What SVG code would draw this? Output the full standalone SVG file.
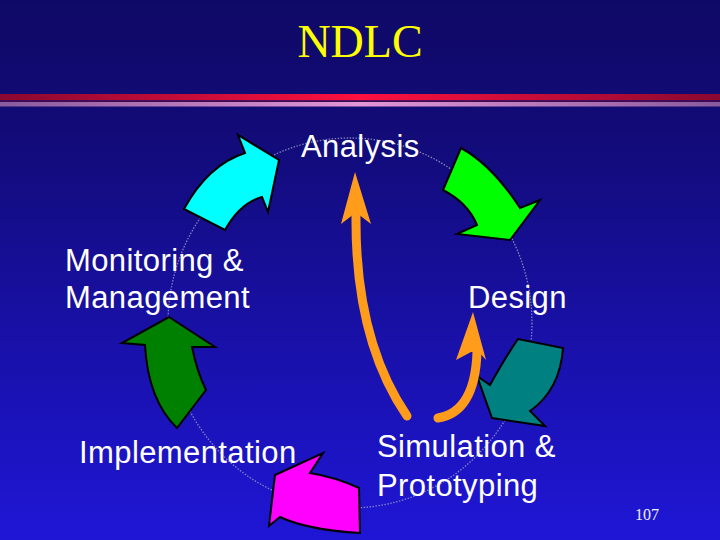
<svg xmlns="http://www.w3.org/2000/svg" width="720" height="540" viewBox="0 0 720 540">
  <defs>
    <linearGradient id="bg" x1="0" y1="0" x2="0" y2="1">
      <stop offset="0" stop-color="#0f0966"/>
      <stop offset="0.25" stop-color="#120b78"/>
      <stop offset="1" stop-color="#1f16d6"/>
    </linearGradient>
    <linearGradient id="red" x1="0" y1="0" x2="1" y2="0">
      <stop offset="0" stop-color="#8a0830"/>
      <stop offset="0.5" stop-color="#ff1040"/>
      <stop offset="1" stop-color="#8a0830"/>
    </linearGradient>
    <linearGradient id="pink" x1="0" y1="0" x2="1" y2="0">
      <stop offset="0" stop-color="#8a5a9e"/>
      <stop offset="0.5" stop-color="#e496d6"/>
      <stop offset="1" stop-color="#8a5a9e"/>
    </linearGradient>
    <style>
      .lbl { font-family: "Liberation Sans", Arial, sans-serif; font-size: 31px; letter-spacing: 0.4px; fill: #ffffff; }
      .blk { stroke: #000000; stroke-width: 2; stroke-linejoin: miter; }
      .shaft { fill: none; stroke: #ff9c1c; stroke-width: 9; stroke-linecap: round; }
      .head { fill: #ff9c1c; }
    </style>
  </defs>

  <rect x="0" y="0" width="720" height="540" fill="url(#bg)"/>
  <rect x="0" y="94" width="720" height="6.5" fill="url(#red)"/>
  <rect x="0" y="100.5" width="720" height="1.5" fill="#3a0a55"/>
  <rect x="0" y="102" width="720" height="4.5" fill="url(#pink)"/>

  <text x="360" y="57" text-anchor="middle" font-family="'Liberation Serif', 'Times New Roman', serif" font-size="46" fill="#ffff00">NDLC</text>

  <g id="cycle">
    <ellipse cx="350" cy="323" rx="182" ry="185" fill="none" stroke="#9494c4" stroke-width="1.3" stroke-dasharray="1.5 1.5" opacity="0.85"/>
  </g>

  <g id="connectors">
    <path id="arrow-cyan" class="blk" fill="#00ffff" d="M184,209 Q208,165 245,153 L238,135 L279,160 L268,212 L262,197 Q240,203 225,230 Z"/>
    <path id="arrow-green" class="blk" fill="#00ff00" d="M461,148 Q492,165 520,208 L540,200 L510,240 L457,234 L477,225 Q468,203 443,190 Z"/>
    <path id="arrow-teal" class="blk" fill="#008080" d="M563,348 Q560,390 530,411 L545,426 L492,418 L477,376 L490,385 Q505,358 518,339 Z"/>
    <path id="arrow-magenta" class="blk" fill="#ff00ff" d="M359,488 Q335,477 310,473 L323,453 L275,475 L269,526 L280,517 Q308,530 360,533 Z"/>
    <path id="arrow-darkgreen" class="blk" fill="#008000" d="M169,317 L215,347 L192,347 Q197,372 206,390 L177,428 Q148,400 145,345 L122,343 Z"/>

    <g id="orange-long">
      <path class="shaft" d="M356,216 Q355,340 407,416"/>
      <polygon class="head" points="355,172 371,224 358,214 354,214 341,224"/>
    </g>
    <g id="orange-short">
      <path class="shaft" d="M477,352 Q475,412 438,418"/>
      <polygon class="head" points="473,312 486,360 479,352 471,352 456,360"/>
    </g>
  </g>

  <g id="node-analysis">
    <text class="lbl" x="301" y="157">Analysis</text>
  </g>
  <g id="node-design">
    <text class="lbl" x="468" y="308">Design</text>
  </g>
  <g id="node-simulation">
    <text class="lbl" x="377" y="457">Simulation &amp;</text>
    <text class="lbl" x="377" y="496">Prototyping</text>
  </g>
  <g id="node-implementation">
    <text class="lbl" x="79" y="463">Implementation</text>
  </g>
  <g id="node-monitoring">
    <text class="lbl" x="65" y="271">Monitoring &amp;</text>
    <text class="lbl" x="65" y="308">Management</text>
  </g>

  <text x="635" y="520" font-family="'Liberation Serif', 'Times New Roman', serif" font-size="16" fill="#f0f0ff">107</text>
</svg>
